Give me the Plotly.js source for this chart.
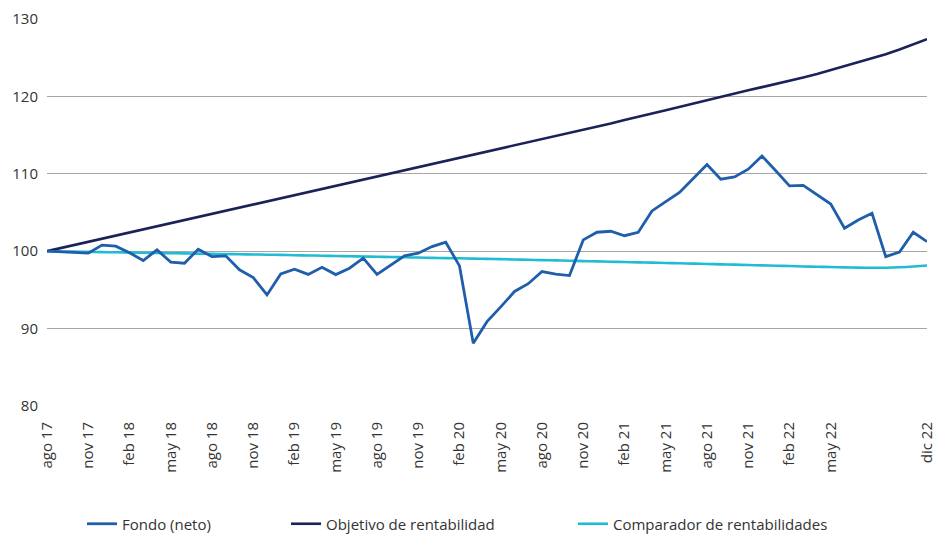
<!DOCTYPE html>
<html>
<head>
<meta charset="utf-8">
<script src="https://cdn.plot.ly/plotly-3.0.1.min.js"></script>
<style>html,body{margin:0;padding:0;background:#fff;}#chart{width:935px;height:534px;}</style>
</head>
<body>
<div id="chart"></div>
<script>
const months = [
  "ago 17","sep 17","oct 17","nov 17","dic 17",
  "ene 18","feb 18","mar 18","abr 18","may 18","jun 18","jul 18","ago 18","sep 18","oct 18","nov 18","dic 18",
  "ene 19","feb 19","mar 19","abr 19","may 19","jun 19","jul 19","ago 19","sep 19","oct 19","nov 19","dic 19",
  "ene 20","feb 20","mar 20","abr 20","may 20","jun 20","jul 20","ago 20","sep 20","oct 20","nov 20","dic 20",
  "ene 21","feb 21","mar 21","abr 21","may 21","jun 21","jul 21","ago 21","sep 21","oct 21","nov 21","dic 21",
  "ene 22","feb 22","mar 22","abr 22","may 22","jun 22","jul 22","ago 22","sep 22","oct 22","nov 22","dic 22"
];
const tickLabels = ["ago 17","nov 17","feb 18","may 18","ago 18","nov 18","feb 19","may 19","ago 19","nov 19",
  "feb 20","may 20","ago 20","nov 20","feb 21","may 21","ago 21","nov 21","feb 22","may 22","dic 22"];

const fondo = [100.0, 99.9, 99.8, 99.75, 100.78, 100.65, 99.8, 98.8, 100.17, 98.6,
  98.45, 100.26, 99.3, 99.4, 97.6, 96.6, 94.35, 97.07, 97.67, 97.0,
  97.93, 96.98, 97.8, 99.1, 97.0, 98.23, 99.4, 99.74, 100.6, 101.16,
  98.1, 88.1, 90.9, 92.8, 94.8, 95.8, 97.37, 97.03, 96.85, 101.46,
  102.45, 102.58, 102.0, 102.45, 105.2, 106.4, 107.6, 109.4, 111.2, 109.3,
  109.6, 110.6, 112.3, 110.4, 108.44, 108.5, 107.27, 106.1, 102.97, 104.04,
  104.9, 99.3, 99.9, 102.45, 101.24];

const objetivo = [100.0, 100.4, 100.8, 101.2, 101.6, 102.0, 102.4, 102.8, 103.2, 103.6,
  104.0, 104.4, 104.8, 105.2, 105.6, 106.0, 106.4, 106.8, 107.2, 107.6,
  108.0, 108.4, 108.8, 109.2, 109.6, 110.0, 110.4, 110.8, 111.2, 111.6,
  112.0, 112.4, 112.8, 113.2, 113.6, 114.0, 114.45, 114.85, 115.25, 115.7,
  116.1, 116.5, 116.95, 117.4, 117.8, 118.2, 118.65, 119.1, 119.5, 119.95,
  120.35, 120.8, 121.2, 121.6, 122.05, 122.45, 122.9, 123.4, 123.9, 124.4,
  124.9, 125.45, 126.05, 126.7, 127.4];

const comparador = [100.00, 99.97, 99.94, 99.91, 99.88, 99.86, 99.83, 99.80, 99.77, 99.74,
  99.72, 99.69, 99.66, 99.63, 99.61, 99.58, 99.55, 99.52, 99.48, 99.45,
  99.42, 99.38, 99.35, 99.31, 99.28, 99.25, 99.21, 99.18, 99.14, 99.11,
  99.08, 99.04, 99.01, 98.97, 98.93, 98.89, 98.85, 98.81, 98.77, 98.72,
  98.68, 98.64, 98.60, 98.56, 98.52, 98.48, 98.44, 98.39, 98.35, 98.30,
  98.26, 98.21, 98.17, 98.12, 98.08, 98.03, 97.99, 97.95, 97.91, 97.88,
  97.86, 97.86, 97.92, 98.02, 98.15];

const yTicks = [80, 90, 100, 110, 120, 130];

const textColor = "#333333";
const font = {family: "'Open Sans', sans-serif", size: 15, color: textColor};

const traces = [
  {x: months, y: comparador, type: "scatter", mode: "lines", name: "Comparador de rentabilidades",
   line: {color: "#1fbcd3", width: 2.6, shape: "spline", smoothing: 0.6}, legend: "legend3"},
  {x: months, y: objetivo, type: "scatter", mode: "lines", name: "Objetivo de rentabilidad",
   line: {color: "#1a2257", width: 2.6}, legend: "legend2"},
  {x: months, y: fondo, type: "scatter", mode: "lines", name: "Fondo (neto)",
   line: {color: "#1f5eab", width: 2.8}, legend: "legend"}
];

const legBase = {orientation: "h", xref: "container", yref: "container",
  yanchor: "middle", y: 1 - 524 / 534, xanchor: "left",
  font: font, bgcolor: "rgba(0,0,0,0)", borderwidth: 0, itemwidth: 30};

const layout = {
  width: 935, height: 534,
  margin: {l: 47, r: 8, t: 19, b: 128, pad: 0, autoexpand: false},
  paper_bgcolor: "#ffffff", plot_bgcolor: "#ffffff",
  font: font,
  showlegend: true,
  legend: Object.assign({}, legBase, {x: (122 - 40) / 935}),
  legend2: Object.assign({}, legBase, {x: (326 - 40) / 935}),
  legend3: Object.assign({}, legBase, {x: (613 - 40) / 935}),
  xaxis: {
    type: "category", categoryorder: "array", categoryarray: months,
    range: [0, 64], tickmode: "array", tickvals: tickLabels, ticktext: tickLabels,
    tickangle: -90, showgrid: false, zeroline: false, showline: false, ticks: "",
    tickfont: font, ticklabelstandoff: 12, fixedrange: true, automargin: false
  },
  yaxis: {
    range: [80, 130], tickmode: "array", tickvals: yTicks,
    showgrid: true, gridcolor: "#a6a6a6", gridwidth: 1.3, zeroline: false, showline: false,
    ticks: "", tickfont: font, ticklabelstandoff: 8, fixedrange: true, automargin: false
  }
};

Plotly.newPlot("chart", traces, layout, {displayModeBar: false, staticPlot: true});
</script>
</body>
</html>
